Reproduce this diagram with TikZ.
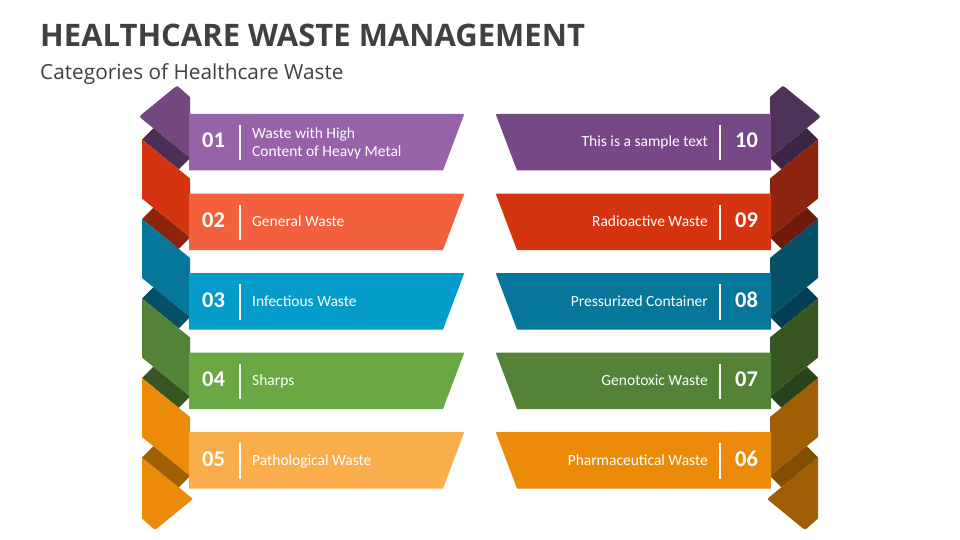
\documentclass[tikz,border=0pt]{standalone}
\usepackage{fontspec}
\setmainfont{Carlito}
\newfontfamily\titlefont{Open Sans}
\definecolor{ttl}{HTML}{404040}
% left banners / pieces / strips
\definecolor{lb0}{HTML}{9763A8}\definecolor{lp0}{HTML}{74487F}\definecolor{ls0}{HTML}{4B2F56}
\definecolor{lb1}{HTML}{F2603D}\definecolor{lp1}{HTML}{D4340F}\definecolor{ls1}{HTML}{8C2410}
\definecolor{lb2}{HTML}{069CCA}\definecolor{lp2}{HTML}{07769B}\definecolor{ls2}{HTML}{054F67}
\definecolor{lb3}{HTML}{6BA843}\definecolor{lp3}{HTML}{548236}\definecolor{ls3}{HTML}{375622}
\definecolor{lb4}{HTML}{F9AD4B}\definecolor{lp4}{HTML}{EC8B0A}\definecolor{ls4}{HTML}{A05E05}
% right banners / pieces / strips
\definecolor{rb0}{HTML}{774886}\definecolor{rp0}{HTML}{4E3258}\definecolor{rs0}{HTML}{3D2546}
\definecolor{rb1}{HTML}{D4340F}\definecolor{rp1}{HTML}{8C2410}\definecolor{rs1}{HTML}{6E1B0B}
\definecolor{rb2}{HTML}{07769B}\definecolor{rp2}{HTML}{054F67}\definecolor{rs2}{HTML}{033E52}
\definecolor{rb3}{HTML}{548236}\definecolor{rp3}{HTML}{375622}\definecolor{rs3}{HTML}{2A421A}
\definecolor{rb4}{HTML}{EC8B0A}\definecolor{rp4}{HTML}{A05E05}\definecolor{rs4}{HTML}{844D04}
\newcommand\drawside[1]{%
  % top piece
  \fill[#1p0] (190,158) -- (143.5,120.2) .. controls (139,116.6) .. (143.5,112.9) -- (173,88.8) .. controls (177,85.5) .. (180,88.2) -- (190,97) -- cycle;
  % end piece
  \fill[#1p4] (142,457.5) -- (189,495.7) .. controls (193,499) .. (189.5,501.8) -- (158.5,527.2) .. controls (155,530) .. (151.6,527) -- (142,518.5) -- cycle;
  \foreach \k in {0,...,4}{
    \pgfmathsetmacro\T{114+79.5*\k}
    \ifnum\k>0
      \fill[#1p\k] (142,\T-54) -- (190,\T-15) -- (190,\T+44) -- (142,\T+5) -- cycle;
    \fi
    \fill[#1s\k] (142,\T+25.5) -- (153.3,\T+14.2) -- (190,\T+44) -- (178.7,\T+55.3) -- cycle;
    \fill[#1b\k] (189,\T) -- (460.5,\T) .. controls (464.5,\T) .. (463,\T+3.5) -- (443,\T+56.5) -- (189,\T+56.5) -- cycle;
  }%
}
\tikzset{
  num/.style={text=white, font=\bfseries\fontsize{22.5}{26}\selectfont, inner sep=0pt, anchor=base},
  lbl/.style={text=white, font=\fontsize{15.5}{18.5}\selectfont, inner sep=0pt},
  sep/.style={draw=white, line width=1.8pt},
}
\begin{document}
\begin{tikzpicture}[x=1pt,y=-1pt]
\useasboundingbox (0,0) rectangle (960,540);
\fill[white] (0,0) rectangle (960,540);
\node[anchor=base west, inner sep=0pt, text=ttl, font=\titlefont\bfseries\fontsize{31}{38}\selectfont] (title) at (40,47) {HEALTHCARE WASTE MANAGEMENT};
\node[anchor=base west, inner sep=0pt, text=ttl, font=\titlefont\fontsize{20.8}{24}\selectfont] (subtitle) at (40,80) {Categories of Healthcare Waste};
\drawside{l}
\begin{scope}[xshift=960pt, xscale=-1]
\drawside{r}
\end{scope}
% left texts
\foreach \k/\n/\t in {0/01/{},1/02/General Waste,2/03/Infectious Waste,3/04/Sharps,4/05/Pathological Waste}{
  \pgfmathsetmacro\T{114+79.5*\k}
  \node[num] (ln\n) at (213.5,\T+34) {\n};
  \draw[sep] (240,\T+11) -- (240,\T+46.5);
  \node[lbl, anchor=base west] (lt\n) at (252,\T+33) {\t};
}
\node[lbl, anchor=base west] (lt01a) at (252,138.3) {Waste with High};
\node[lbl, anchor=base west] (lt01b) at (252,156.7) {Content of Heavy Metal};
% right texts
\foreach \k/\n/\t in {0/10/This is a sample text,1/09/Radioactive Waste,2/08/Pressurized Container,3/07/Genotoxic Waste,4/06/Pharmaceutical Waste}{
  \pgfmathsetmacro\T{114+79.5*\k}
  \node[num] (rn\n) at (746.5,\T+34) {\n};
  \draw[sep] (720,\T+11) -- (720,\T+46.5);
  \node[lbl, anchor=base east] (rt\n) at (708,\T+33) {\t};
}
\end{tikzpicture}
\end{document}
